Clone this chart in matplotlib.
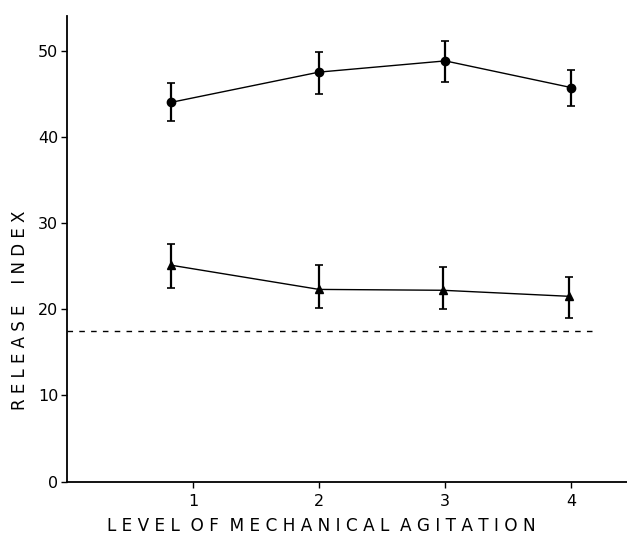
import matplotlib
matplotlib.use("Agg")
import matplotlib.pyplot as plt

# values
levels_circle = [0.83, 2.0, 3.0, 4.0]
circle_mean = [44.0, 47.5, 48.8, 45.7]
circle_low = [41.8, 45.0, 46.3, 43.6]
circle_high = [46.2, 49.8, 51.1, 47.7]

levels_tri = [0.83, 2.0, 2.98, 3.98]
tri_mean = [25.1, 22.3, 22.2, 21.5]
tri_low = [22.5, 20.1, 20.0, 19.0]
tri_high = [27.6, 25.1, 24.9, 23.7]

baseline = 17.5
baseline_end = 4.18

x_ticks = [1, 2, 3, 4]
y_ticks = [0, 10, 20, 30, 40, 50]


def spaced(s, gap="  "):
    # wide letter spacing like the original lettering
    return gap.join(" ".join(w) for w in s.split(" "))


fig = plt.figure(figsize=(6.27, 5.35), dpi=100)
ax = fig.add_axes([0.1064, 0.0996, 0.8936, 0.8704])

err_c = [[m - l for m, l in zip(circle_mean, circle_low)],
         [h - m for m, h in zip(circle_mean, circle_high)]]
err_t = [[m - l for m, l in zip(tri_mean, tri_low)],
         [h - m for m, h in zip(tri_mean, tri_high)]]

ax.errorbar(levels_circle, circle_mean, yerr=err_c, fmt='-o', color='black',
            lw=1.0, elinewidth=1.6, capsize=3, capthick=1.2, markersize=6)
ax.errorbar(levels_tri, tri_mean, yerr=err_t, fmt='-^', color='black',
            lw=1.0, elinewidth=1.6, capsize=3, capthick=1.2, markersize=6)

ax.plot([0, baseline_end], [baseline, baseline], color='black', lw=1.0,
        linestyle=(0, (4, 4.5)))

ax.set_xlim(0, 4.44)
ax.set_ylim(0, 54.0)
ax.set_xticks(x_ticks)
ax.set_xticklabels(["1", "2", "3", "4"])
ax.set_yticks(y_ticks)

for side in ("top", "right"):
    ax.spines[side].set_visible(False)
for side in ("left", "bottom"):
    ax.spines[side].set_linewidth(1.3)

ax.tick_params(axis='both', direction='out', length=4, width=1.0,
               labelsize=11.5, pad=2)
ax.tick_params(axis='x', pad=5)

fig.text(0.513, 0.008, spaced("LEVEL OF MECHANICAL AGITATION"),
         ha='center', va='baseline', fontsize=12.2)
fig.text(0.032, 0.42, spaced("RELEASE INDEX", gap="    "), rotation=90,
         ha='center', va='center', fontsize=12)

plt.savefig("out.png", dpi=100)
plt.close()
